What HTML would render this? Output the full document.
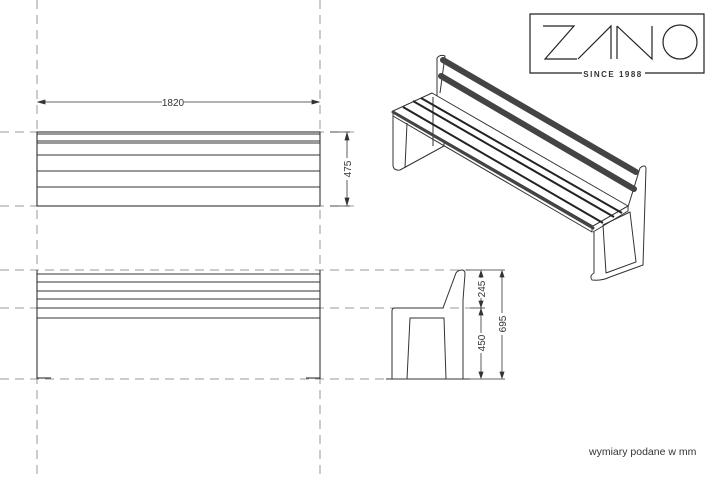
<!DOCTYPE html>
<html><head><meta charset="utf-8"><style>
html,body{margin:0;padding:0;background:#fff;width:719px;height:480px;overflow:hidden}
svg{display:block}
text{font-family:"Liberation Sans",sans-serif;fill:#333}
</style></head><body>
<svg width="719" height="480" viewBox="0 0 719 480" xmlns="http://www.w3.org/2000/svg">
<g stroke="#999" stroke-width="1" stroke-dasharray="9,6" fill="none">
<line x1="37" y1="0" x2="37" y2="480"/>
<line x1="320" y1="0" x2="320" y2="480"/>
<line x1="0" y1="132" x2="360" y2="132"/>
<line x1="0" y1="206" x2="360" y2="206"/>
<line x1="0" y1="270" x2="470" y2="270"/>
<line x1="0" y1="308" x2="470" y2="308"/>
<line x1="0" y1="379" x2="470" y2="379"/>
</g>
<g stroke="#333" stroke-width="1.1" fill="none">
<rect x="37" y="132" width="283" height="74"/>
<line x1="37" y1="134" x2="320" y2="134"/>
<line x1="37" y1="141" x2="320" y2="141"/>
<line x1="37" y1="143" x2="320" y2="143"/>
<line x1="37" y1="155" x2="320" y2="155"/>
<line x1="37" y1="171" x2="320" y2="171"/>
<line x1="37" y1="187" x2="320" y2="187"/>
</g>
<g stroke="#333" stroke-width="0.8" fill="#333">
<line x1="38" y1="102" x2="319" y2="102"/>
<path d="M38 102 l7 -2 v4z M319 102 l-7 -2 v4z"/>
<line x1="330" y1="132" x2="350" y2="132"/>
<line x1="330" y1="206" x2="350" y2="206"/>
<line x1="347" y1="133" x2="347" y2="205"/>
<path d="M347 133 l-2 7 h4z M347 205 l-2 -7 h4z"/>
</g>
<rect x="162" y="96" width="22" height="12" fill="#fff"/>
<text x="173" y="106" font-size="10" text-anchor="middle">1820</text>
<rect x="341" y="158" width="12" height="22" fill="#fff"/>
<text font-size="10" text-anchor="middle" transform="translate(351,169) rotate(-90)">475</text>
<g stroke="#333" stroke-width="1.1" fill="none">
<line x1="37" y1="270" x2="37" y2="379"/>
<line x1="320" y1="270" x2="320" y2="379"/>
<line x1="37" y1="274" x2="320" y2="274"/>
<line x1="37" y1="282" x2="320" y2="282"/>
<line x1="37" y1="291" x2="320" y2="291"/>
<line x1="37" y1="299" x2="320" y2="299"/>
<line x1="37" y1="308" x2="320" y2="308"/>
<line x1="37" y1="318" x2="320" y2="318"/>
<line x1="37" y1="378" x2="51" y2="378"/>
<line x1="306" y1="378" x2="320" y2="378"/>
</g>
<g stroke="#333" stroke-width="1" fill="none">
<path d="M392 379 V311 Q392 308 395 308 H443 L456 273 Q458 270 462 270 Q465 270 465 274 L463 300 V379"/>
<path d="M407 379 L410 318 H444 L446 379"/>
<line x1="386" y1="379" x2="470" y2="379"/>
</g>
<g stroke="#333" stroke-width="0.8" fill="#333">
<line x1="466" y1="270" x2="505" y2="270"/>
<line x1="470" y1="308" x2="485" y2="308"/>
<line x1="466" y1="379" x2="505" y2="379"/>
<line x1="481" y1="271" x2="481" y2="378"/>
<line x1="502" y1="271" x2="502" y2="378"/>
<path d="M481 271 l-2 6 h4z M481 307 l-2 -6 h4z M481 309 l-2 6 h4z M481 378 l-2 -6 h4z M502 271 l-2 6 h4z M502 378 l-2 -6 h4z"/>
</g>
<rect x="475" y="278" width="12" height="20" fill="#fff"/>
<rect x="475" y="333" width="12" height="20" fill="#fff"/>
<rect x="496" y="313" width="12" height="22" fill="#fff"/>
<text font-size="10" text-anchor="middle" transform="translate(485,289) rotate(-90)">245</text>
<text font-size="10" text-anchor="middle" transform="translate(485,343) rotate(-90)">450</text>
<text font-size="10" text-anchor="middle" transform="translate(506,324) rotate(-90)">695</text>
<!-- isometric -->
<g stroke="#333" stroke-width="1" fill="none" stroke-linejoin="round">
<path d="M437 100 L437 58 Q440 54 445 56 L440 93"/>
<path d="M393 111 L432 93 L628 206 L593 226 Z" fill="#fff"/>
<path d="M393 111 V116 L592 232 V226"/>
<path d="M593 226 L628 206 V211 L593 232"/>
<path d="M393 116 V166 Q394 171 400 170 L444 146 V141"/>
<path d="M405 168 L407 123"/>
<path d="M433 97 V146"/>
<path d="M628 207 L640 168 Q645 164 646 168 L643 265 L610 277 Q602 281 592 280 Q589 276 594 273 L594 232"/>
<path d="M603 225 L630 212 L636 262 L606 273 Z"/>
</g>
<g stroke="#444" stroke-linecap="round">
<line x1="443" y1="60" x2="636" y2="172" stroke-width="6"/>
<line x1="441" y1="76" x2="634" y2="189" stroke-width="6"/>
<line x1="393" y1="112" x2="593" y2="228" stroke-width="3"/>
</g>
<g stroke="#222" stroke-width="2">
<line x1="403" y1="107" x2="603" y2="223"/>
<line x1="413" y1="101" x2="614" y2="217"/>
<line x1="421" y1="98" x2="622" y2="213"/>
</g>
<!-- logo -->
<g stroke="#222" stroke-width="1.2" fill="none">
<path d="M582 73 H530 V14 H704 V73 H645"/>
<path d="M543 26 H574 L545 59 H577"/>
<path d="M578 59 L611 26 V59 M617 26 V59"/>
<path d="M617 26 L652 59 V26"/>
<circle cx="680" cy="42" r="17"/>
</g>
<text x="613" y="77" font-size="8" text-anchor="middle" letter-spacing="1.5" font-weight="bold" fill="#555">SINCE 1988</text>
<text x="589" y="455" font-size="10.5" fill="#333">wymiary podane w mm</text>
</svg>
</body></html>
